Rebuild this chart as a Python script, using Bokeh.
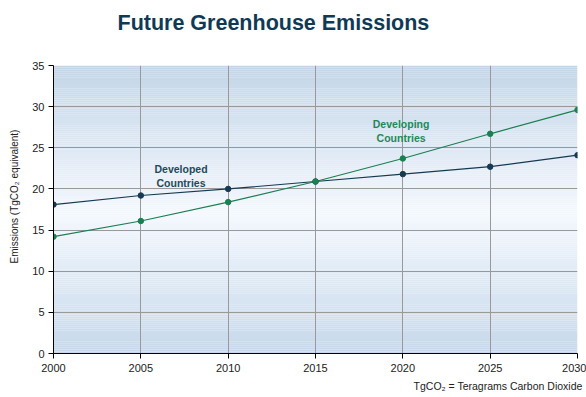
import numpy as np
from bokeh.plotting import figure
from bokeh.models import FixedTicker, Title, ColumnDataSource
from bokeh.core.properties import value
from bokeh.embed import file_html
from bokeh.resources import INLINE

years = [2000, 2005, 2010, 2015, 2020, 2025, 2030]
developed = [18.1, 19.2, 20.0, 20.9, 21.8, 22.7, 24.1]
developing = [14.2, 16.1, 18.4, 20.9, 23.7, 26.7, 29.6]
y_ticks = [0, 5, 10, 15, 20, 25, 30, 35]
x_ticks = [2000, 2005, 2010, 2015, 2020, 2025, 2030]

FONT = "Liberation Sans"

p = figure(width=586, height=397, output_backend="svg", toolbar_location=None,
           x_range=(2000, 2030), y_range=(0, 35),
           min_border_left=53, min_border_right=9, min_border_top=65, min_border_bottom=44)
p.background_fill_color = "white"
p.border_fill_color = "white"
p.outline_line_color = None

# background vertical gradient (decoration)
edges = np.linspace(0, 35, 141)
top_c = np.array([0xc3, 0xd5, 0xe7])
mid_c = np.array([0xf4, 0xf8, 0xfe])
bot_c = np.array([0xc6, 0xd8, 0xea])
mid_v = 17.0
cols = []
for a, b in zip(edges[:-1], edges[1:]):
    m = (a + b) / 2
    if m >= mid_v:
        t = (m - mid_v) / (35 - mid_v)
        c = mid_c + (top_c - mid_c) * t
    else:
        t = (mid_v - m) / mid_v
        c = mid_c + (bot_c - mid_c) * t
    cols.append("#%02x%02x%02x" % tuple(int(round(v)) for v in c))
bg = p.quad(left=2000, right=2030, bottom=edges[:-1], top=edges[1:], fill_color=cols, line_color=None)
bg.level = "image"

# title (outermost above) + spacer between title and frame
p.title.text = "Future Greenhouse Emissions"
p.title.text_font = FONT
p.title.text_font_size = "21.5px"
p.title.text_font_style = "bold"
p.title.text_color = "#0f3a55"
p.title.align = "left"
p.title.offset = 64
p.title.standoff = 0
spacer = Title(text=" ", text_font_size="1px", standoff=28)
p.add_layout(spacer, "above")

# axes
for ax in (p.xaxis[0], p.yaxis[0]):
    ax.axis_line_color = "black"
    ax.axis_line_width = 1
    ax.major_tick_line_color = "black"
    ax.major_tick_out = 5
    ax.major_tick_in = 0
    ax.minor_tick_line_color = None
    ax.major_label_text_font = FONT
    ax.major_label_text_font_size = "11px"
    ax.major_label_text_color = "#222222"
p.xaxis.ticker = FixedTicker(ticks=x_ticks)
p.yaxis.ticker = FixedTicker(ticks=y_ticks)
p.xaxis.major_label_standoff = 5
p.yaxis.major_label_standoff = 4

ylab = Title(text="Emissions (TgCO\u2082 equivalent)", align="left", offset=90,
             vertical_align="top",
             text_font=FONT, text_font_size="10px", text_font_style="normal",
             text_color="#222222", standoff=15)
p.add_layout(ylab, "left")

p.xgrid.ticker = FixedTicker(ticks=x_ticks)
p.ygrid.ticker = FixedTicker(ticks=y_ticks)
for g in (p.xgrid[0], p.ygrid[0]):
    g.grid_line_color = "#999999"
    g.grid_line_width = 1

# series
dev_color = "#163a52"
dvg_color = "#1a8050"
src = ColumnDataSource(dict(x=years, dev=developed, dvg=developing))
p.line("x", "dev", source=src, line_color=dev_color, line_width=1.2)
p.line("x", "dvg", source=src, line_color=dvg_color, line_width=1.2)
p.scatter("x", "dev", source=src, size=5.5, fill_color=dev_color, line_color=dev_color)
p.scatter("x", "dvg", source=src, size=5.5, fill_color=dvg_color, line_color=dvg_color)

# labels
p.text(x=[2007.3], y=[21.6], text=["Developed\nCountries"], text_font=value(FONT),
       text_font_size="10.5px", text_font_style="bold", text_color="#1f4a5a",
       text_align="center", text_baseline="middle", text_line_height=1.15)
p.text(x=[2019.9], y=[27.05], text=["Developing\nCountries"], text_font=value(FONT),
       text_font_size="10.5px", text_font_style="bold", text_color="#1d8a57",
       text_align="center", text_baseline="middle", text_line_height=1.15)

# footnote
foot = Title(text="TgCO\u2082 = Teragrams Carbon Dioxide", align="right",
             text_font=FONT, text_font_size="10.5px", text_font_style="normal",
             text_color="#222222", offset=-5, standoff=6)
p.add_layout(foot, "below")

open("out.html", "w").write(file_html(p, INLINE))
